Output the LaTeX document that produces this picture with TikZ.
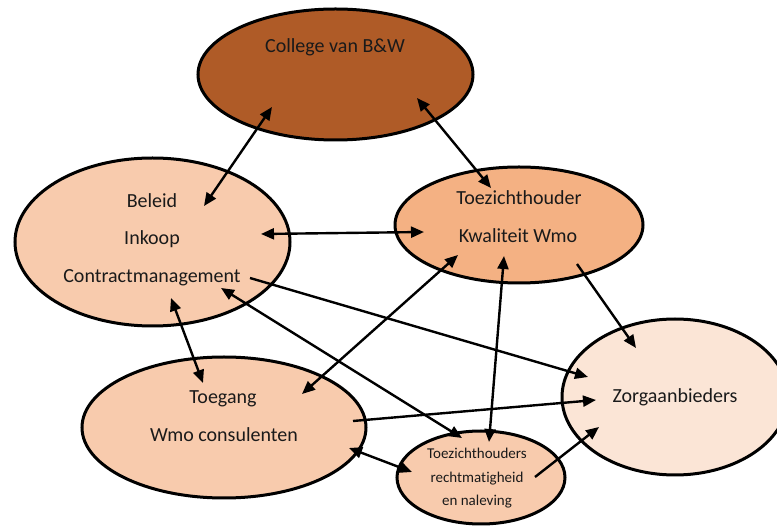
\documentclass[tikz,border=0pt]{standalone}
\usepackage{fontspec}
\setmainfont{Carlito}[RawFeature={-liga;-clig}]
\usetikzlibrary{shapes.geometric,arrows.meta}
\definecolor{cbrown}{HTML}{AF5B27}
\definecolor{cmid}{HTML}{F8CBAD}
\definecolor{cdark}{HTML}{F4B183}
\definecolor{clight}{HTML}{FBE5D6}
\definecolor{ctext}{HTML}{1A1A1A}
\tikzset{
  bubble/.style={ellipse, draw=black, line width=3pt, inner sep=0pt},
  lbl/.style={inner sep=0pt, text=ctext, font=\fontsize{20}{20}\selectfont, anchor=base},
  slbl/.style={inner sep=0pt, text=ctext, font=\fontsize{15}{15}\selectfont, anchor=base},
  conn/.style={line width=2.4pt, -{Triangle[length=13pt,width=11pt]}},
  bconn/.style={line width=2.4pt, {Triangle[length=13pt,width=11pt]}-{Triangle[length=13pt,width=11pt]}}
}
\begin{document}
\begin{tikzpicture}[x=1pt,y=-1pt]
\useasboundingbox (0,0) rectangle (777,526);
\clip (0,0) rectangle (777,526);
% ellipses
\node[bubble, fill=cbrown, minimum width=275pt, minimum height=131pt] (coll) at (335.5,74.5) {};
\node[bubble, fill=cmid, minimum width=275pt, minimum height=168pt] (bel) at (152.5,242) {};
\node[bubble, fill=cdark, minimum width=248pt, minimum height=116pt] (toez) at (519,225) {};
\node[bubble, fill=clight, minimum width=226pt, minimum height=156pt] (zorg) at (675,397) {};
\node[bubble, fill=cmid, minimum width=284pt, minimum height=141pt] (toeg) at (224,427.5) {};
\node[bubble, fill=cmid, minimum width=168pt, minimum height=93pt] (small) at (481,477.5) {};
% texts
\node[lbl] (tcoll) at (335,53) {College van B\&W};
\node[lbl] (tbel1) at (152,208) {Beleid};
\node[lbl] (tbel2) at (152,245) {Inkoop};
\node[lbl] (tbel3) at (152,283) {Contractmanagement};
\node[lbl] (ttoez1) at (519,205) {Toezichthouder};
\node[lbl] (ttoez2) at (518,243) {Kwaliteit Wmo};
\node[lbl] (tzorg) at (675,403) {Zorgaanbieders};
\node[lbl] (ttoeg1) at (223,404) {Toegang};
\node[lbl] (ttoeg2) at (224,442) {Wmo consulenten};
\node[slbl] (ts1) at (477,459) {Toezichthouders};
\node[slbl] (ts2) at (477,483) {rechtmatigheid};
\node[slbl] (ts3) at (477,506) {en naleving};
% connector end points
\coordinate (cb1) at (272,107);  \coordinate (cb2) at (204,206);
\coordinate (ct1) at (417,98);   \coordinate (ct2) at (491,188);
\coordinate (bt1) at (261,234);  \coordinate (bt2) at (424,232);
\coordinate (bz1) at (250,278);  \coordinate (bz2) at (588,377);
\coordinate (bg1) at (171,298);  \coordinate (bg2) at (203,383);
\coordinate (bs1) at (221,288);  \coordinate (bs2) at (462,438);
\coordinate (tg1) at (458,255);  \coordinate (tg2) at (302,394);
\coordinate (ts1c) at (504,256); \coordinate (ts2c) at (489,442);
\coordinate (tz1) at (577,264);  \coordinate (tz2) at (636,348);
\coordinate (gz1) at (353,421);  \coordinate (gz2) at (596,400);
\coordinate (gs1) at (349,448);  \coordinate (gs2) at (412,472);
\coordinate (sz1) at (535,477);  \coordinate (sz2) at (599,427);
% connectors
\draw[bconn] (cb1) -- (cb2);
\draw[bconn] (ct1) -- (ct2);
\draw[bconn] (bt1) -- (bt2);
\draw[conn] (bz1) -- (bz2);
\draw[bconn] (bg1) -- (bg2);
\draw[bconn] (bs1) -- (bs2);
\draw[bconn] (tg1) -- (tg2);
\draw[bconn] (ts1c) -- (ts2c);
\draw[conn] (tz1) -- (tz2);
\draw[conn] (gz1) -- (gz2);
\draw[bconn] (gs1) -- (gs2);
\draw[conn] (sz1) -- (sz2);
\end{tikzpicture}
\end{document}
